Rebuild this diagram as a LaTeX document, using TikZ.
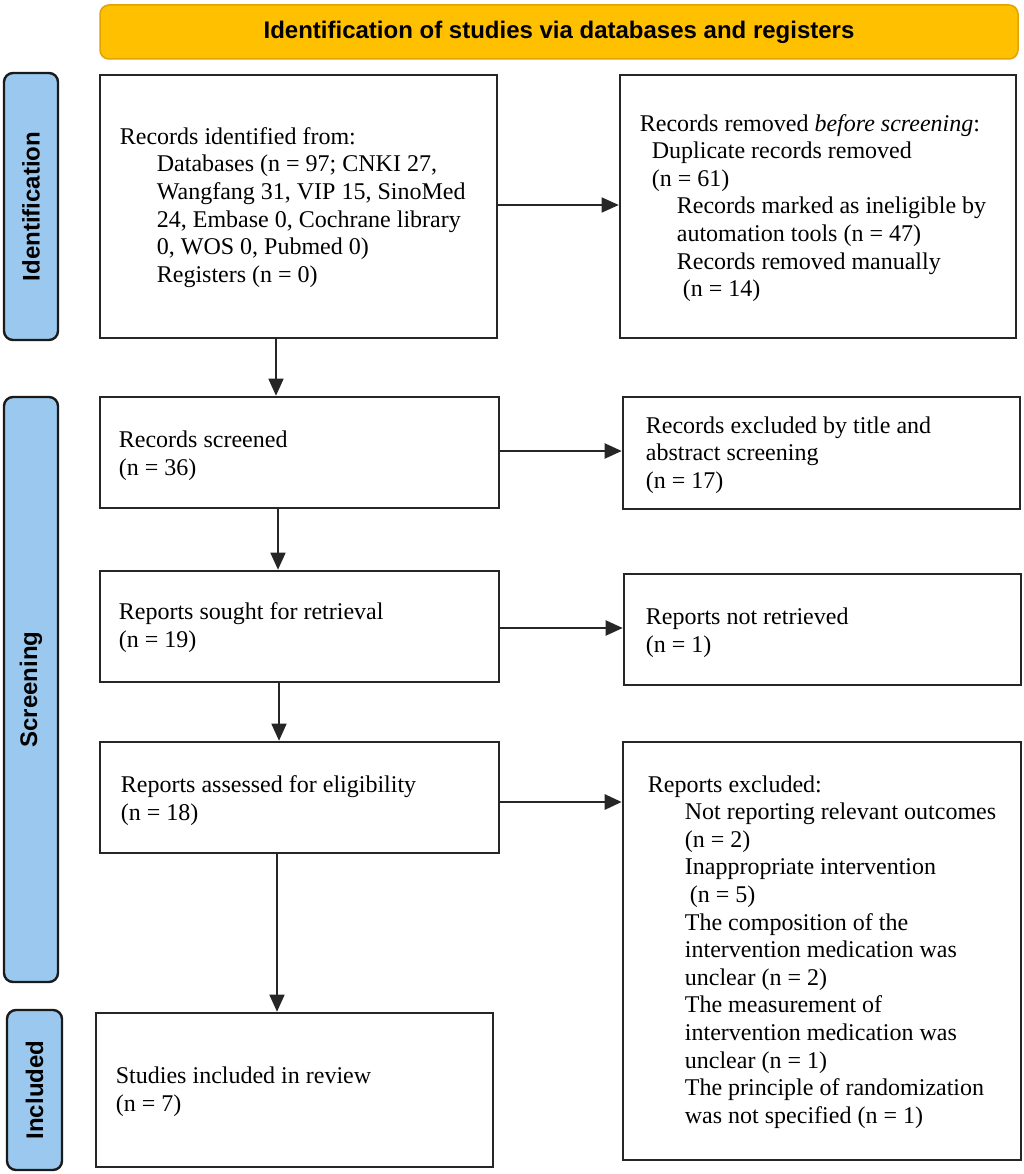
\documentclass[tikz,border=0pt]{standalone}
\usepackage{fontspec}
\setmainfont{Liberation Serif}
\newfontfamily\lsans{Liberation Sans}
\usetikzlibrary{arrows.meta}
\definecolor{bannerfill}{HTML}{FFC000}
\definecolor{bannerline}{HTML}{E0A300}
\definecolor{sidefill}{HTML}{9AC8EE}
\definecolor{sideline}{HTML}{1A1A1A}
\definecolor{boxline}{HTML}{262626}
\begin{document}
\begin{tikzpicture}[x=1pt,y=-1pt,
 box/.style={draw=boxline, line width=2.6pt, rectangle, inner sep=0pt, fill=white},
 txt/.style={inner sep=0pt, anchor=west, align=left, font=\fontsize{24}{27.6}\selectfont},
 side/.style={draw=sideline, fill=sidefill, line width=2.4pt, rounded corners=9pt, rotate=90, inner sep=0pt, font=\lsans\bfseries\fontsize{24}{28}\selectfont},
 banner/.style={draw=bannerline, fill=bannerfill, line width=1.5pt, rounded corners=9pt, inner sep=0pt, font=\lsans\bfseries\fontsize{24}{28}\selectfont},
 arr/.style={draw=black!85, line width=1.6pt, -{Triangle[length=17pt,width=15pt]}},
]
\fill[white] (0,0) rectangle (1024,1174);
\useasboundingbox (0,0) rectangle (1024,1174);

% banner
\node[banner, minimum width=918pt, minimum height=54pt] (ban) at (559,32) {Identification of studies via databases and registers};

% side labels
\node[side, minimum width=267pt, minimum height=54pt] (sid) at (31,206.5) {Identification};
\node[side, minimum width=585pt, minimum height=54pt] (ssc) at (31,689.5) {Screening};
\node[side, minimum width=160pt, minimum height=55pt] (sin) at (34.5,1090) {Included};

% boxes
\node[box, minimum width=397pt, minimum height=263pt] (b1) at (298.5,206.5) {};
\node[box, minimum width=396pt, minimum height=263pt] (b2) at (818,206.5) {};
\node[box, minimum width=399pt, minimum height=111pt] (b3) at (299.5,452.5) {};
\node[box, minimum width=397pt, minimum height=112pt] (b4) at (821.5,453) {};
\node[box, minimum width=399pt, minimum height=111pt] (b5) at (299.5,626.5) {};
\node[box, minimum width=397pt, minimum height=111pt] (b6) at (822.5,629.5) {};
\node[box, minimum width=399pt, minimum height=111pt] (b7) at (299.5,797.5) {};
\node[box, minimum width=398pt, minimum height=418pt] (b8) at (822,951) {};
\node[box, minimum width=397pt, minimum height=154pt] (b9) at (294.5,1090) {};

% texts
\node[txt] (t1) at ([xshift=21pt,yshift=-1pt]b1.west) {Records identified from:\\
\hspace*{37pt}Databases (n = 97; CNKI 27,\\
\hspace*{37pt}Wangfang 31, VIP 15, SinoMed\\
\hspace*{37pt}24, Embase 0, Cochrane library\\
\hspace*{37pt}0, WOS 0, Pubmed 0)\\
\hspace*{37pt}Registers (n = 0)};
\node[txt] (t2) at ([xshift=21pt,yshift=-1.5pt]b2.west) {Records removed \textit{before screening}:\\
\hspace*{12pt}Duplicate records removed\\
\hspace*{12pt}(n = 61)\\
\hspace*{37pt}Records marked as ineligible by\\
\hspace*{37pt}automation tools (n = 47)\\
\hspace*{37pt}Records removed manually\\
\hspace*{43pt}(n = 14)};
\node[txt] (t3) at ([xshift=20pt,yshift=-3pt]b3.west) {Records screened\\(n = 36)};
\node[txt] (t4) at ([xshift=24pt,yshift=-2pt]b4.west) {Records excluded by title and\\abstract screening\\(n = 17)};
\node[txt] (t5) at ([xshift=20pt,yshift=-1pt]b5.west) {Reports sought for retrieval\\(n = 19)};
\node[txt] (t6) at ([xshift=23pt,yshift=-3pt]b6.west) {Reports not retrieved\\(n = 1)};
\node[txt] (t7) at ([xshift=22pt,yshift=-3pt]b7.west) {Reports assessed for eligibility\\(n = 18)};
\node[txt] (t8) at ([xshift=26pt,yshift=-1pt]b8.west) {Reports excluded:\\
\hspace*{37pt}Not reporting relevant outcomes\\
\hspace*{37pt}(n = 2)\\
\hspace*{37pt}Inappropriate intervention\\
\hspace*{42pt}(n = 5)\\
\hspace*{37pt}The composition of the\\
\hspace*{37pt}intervention medication was\\
\hspace*{37pt}unclear (n = 2)\\
\hspace*{37pt}The measurement of\\
\hspace*{37pt}intervention medication was\\
\hspace*{37pt}unclear (n = 1)\\
\hspace*{37pt}The principle of randomization\\
\hspace*{37pt}was not specified (n = 1)};
\node[txt] (t9) at ([xshift=21pt,yshift=-2pt]b9.west) {Studies included in review\\(n = 7)};

% connector levels
\coordinate (y1) at (0,205);
\coordinate (y2) at (0,451);
\coordinate (y3) at (0,628);
\coordinate (y4) at (0,802);

% horizontal arrows
\draw[arr] (b1.east |- y1) -- (b2.west |- y1);
\draw[arr, line width=2pt] (b3.east |- y2) -- (b4.west |- y2);
\draw[arr, line width=2pt] (b5.east |- y3) -- (b6.west |- y3);
\draw[arr, line width=2.8pt] (b7.east |- y4) -- (b8.west |- y4);

% vertical arrows
\draw[arr] ([xshift=-22.5pt]b1.south) -- ([xshift=-22.5pt]b1.south |- b3.north);
\draw[arr] ([xshift=-21.5pt]b3.south) -- ([xshift=-21.5pt]b3.south |- b5.north);
\draw[arr] ([xshift=-20.5pt]b5.south) -- ([xshift=-20.5pt]b5.south |- b7.north);
\draw[arr] ([xshift=-22.5pt]b7.south) -- ([xshift=-22.5pt]b7.south |- b9.north);
\end{tikzpicture}
\end{document}
